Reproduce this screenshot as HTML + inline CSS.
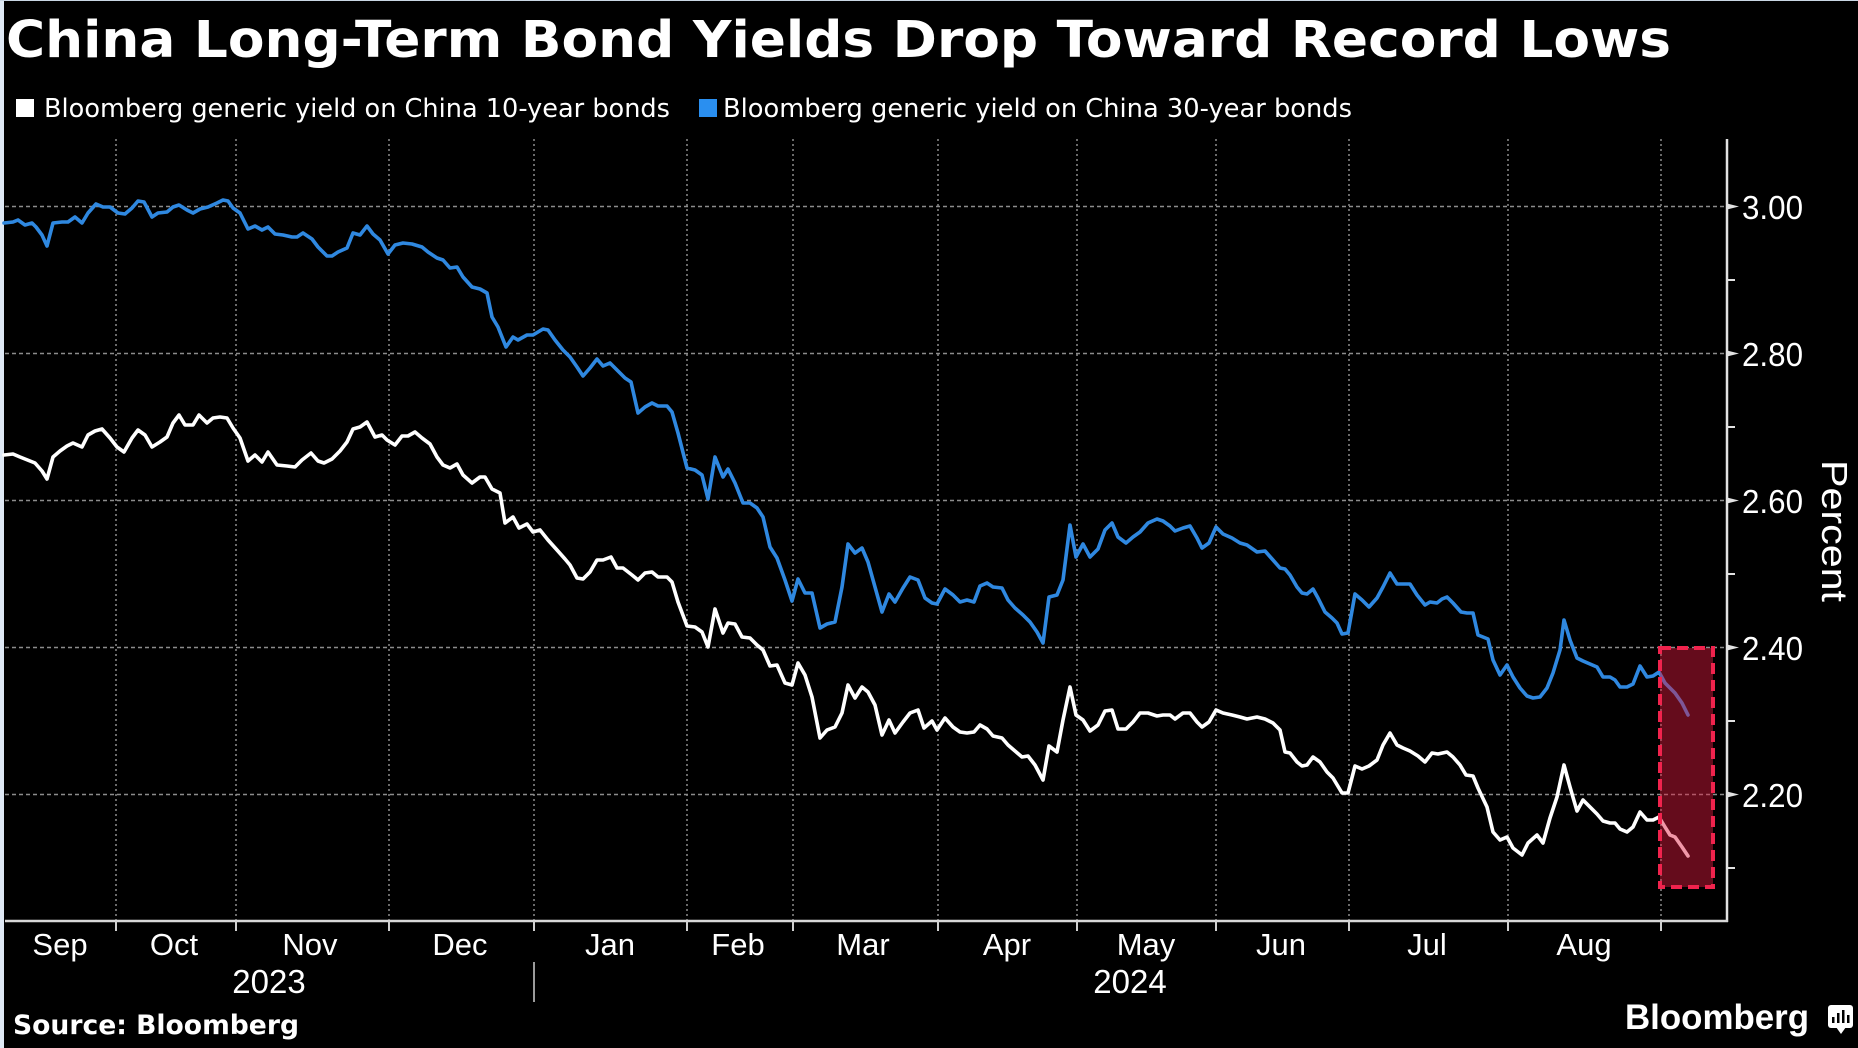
<!DOCTYPE html>
<html>
<head>
<meta charset="utf-8">
<style>
html,body{margin:0;padding:0;background:#000;}
body{width:1858px;height:1048px;overflow:hidden;}
svg{display:block;}
</style>
</head>
<body>
<svg width="1858" height="1048" viewBox="0 0 1858 1048" xmlns="http://www.w3.org/2000/svg">
<rect x="0" y="0" width="1858" height="1048" fill="#000"/>
<rect x="0" y="0" width="4" height="1048" fill="#dfe9f5"/>
<rect x="0" y="0" width="1858" height="1" fill="#c9d6e4"/>

<!-- Title -->
<text x="6" y="57" font-family="DejaVu Sans, Liberation Sans, sans-serif" font-weight="bold" font-size="51" fill="#fff" textLength="1665" lengthAdjust="spacingAndGlyphs">China Long-Term Bond Yields Drop Toward Record Lows</text>

<!-- Legend -->
<rect x="16" y="99" width="18" height="18" fill="#ffffff"/>
<text x="44" y="117" font-family="DejaVu Sans, Liberation Sans, sans-serif" font-size="26" fill="#fff" textLength="626" lengthAdjust="spacingAndGlyphs">Bloomberg generic yield on China 10-year bonds</text>
<rect x="699" y="99" width="18" height="18" fill="#2a8ff0"/>
<text x="723" y="117" font-family="DejaVu Sans, Liberation Sans, sans-serif" font-size="26" fill="#fff" textLength="629" lengthAdjust="spacingAndGlyphs">Bloomberg generic yield on China 30-year bonds</text>

<!-- Horizontal grid -->
<g stroke="#8c8c8c" stroke-width="1.5" stroke-dasharray="4 3">
<line x1="5" y1="206.5" x2="1726" y2="206.5"/>
<line x1="5" y1="353.5" x2="1726" y2="353.5"/>
<line x1="5" y1="500.5" x2="1726" y2="500.5"/>
<line x1="5" y1="647.5" x2="1726" y2="647.5"/>
<line x1="5" y1="794.5" x2="1726" y2="794.5"/>
</g>
<!-- Vertical grid -->
<g stroke="#8c8c8c" stroke-width="1.5" stroke-dasharray="2 3">
<line x1="116" y1="139" x2="116" y2="920"/>
<line x1="236" y1="139" x2="236" y2="920"/>
<line x1="389" y1="139" x2="389" y2="920"/>
<line x1="534" y1="139" x2="534" y2="920"/>
<line x1="687" y1="139" x2="687" y2="920"/>
<line x1="793" y1="139" x2="793" y2="920"/>
<line x1="938" y1="139" x2="938" y2="920"/>
<line x1="1077" y1="139" x2="1077" y2="920"/>
<line x1="1216" y1="139" x2="1216" y2="920"/>
<line x1="1349" y1="139" x2="1349" y2="920"/>
<line x1="1508" y1="139" x2="1508" y2="920"/>
<line x1="1661" y1="139" x2="1661" y2="920"/>
</g>

<!-- Series: 30-year (blue) -->
<polyline fill="none" stroke="#2f88e0" stroke-width="3.6" stroke-linejoin="round" stroke-linecap="round" points="4,223 13,222 18,220 25,225 32,223 36,227 42,235 47,246 53,223 62,222 68,222 75,217 82,223 88,213 96,204 103,207 110,207 118,213 125,214 132,208 138,201 144,202 152,217 158,213 167,212 173,207 179,205 187,210 193,213 200,209 208,207 217,203 223,200 228,201 233,208 240,213 248,229 255,226 262,230 268,227 275,234 283,235 292,237 297,237 303,233 312,239 318,247 327,256 332,256 338,252 347,248 353,233 360,235 367,226 373,234 380,240 388,254 395,245 403,243 412,244 422,247 428,252 437,258 443,260 450,268 457,267 463,277 472,287 480,289 487,293 492,317 498,327 506,347 513,337 518,340 527,335 533,335 543,329 548,330 555,340 563,350 570,357 577,367 583,376 590,368 597,359 603,366 610,363 617,370 625,378 631,382 638,413 645,407 652,403 658,406 667,406 672,412 678,433 687,468 695,470 702,475 708,499 715,457 723,477 728,469 735,483 743,503 750,503 757,508 763,517 770,547 777,558 785,580 792,601 798,579 805,593 812,593 820,628 827,624 835,622 842,587 848,544 855,553 862,548 868,562 875,587 882,612 889,594 895,602 903,588 910,577 918,580 925,598 932,603 937,604 945,589 953,595 960,602 967,600 974,602 980,586 987,583 993,587 1002,588 1008,600 1015,608 1023,615 1030,622 1037,632 1043,643 1049,597 1057,595 1063,580 1070,525 1076,557 1083,544 1090,557 1098,549 1105,530 1112,523 1118,537 1126,543 1133,537 1140,532 1148,523 1157,519 1163,521 1170,526 1175,531 1183,528 1190,526 1197,538 1202,548 1209,543 1216,527 1223,534 1232,538 1240,543 1247,545 1257,552 1265,551 1273,560 1280,568 1285,569 1290,575 1297,587 1302,593 1307,594 1313,589 1318,598 1325,612 1332,618 1337,623 1342,634 1348,633 1355,594 1362,600 1369,607 1377,598 1383,587 1390,573 1397,584 1403,584 1410,584 1417,595 1425,605 1430,602 1437,603 1442,599 1447,597 1453,603 1461,612 1467,613 1473,613 1478,635 1483,637 1488,639 1493,660 1500,675 1507,665 1513,677 1520,688 1527,696 1533,698 1540,697 1547,688 1553,673 1560,650 1564,620 1570,640 1577,658 1583,661 1590,664 1597,667 1603,677 1610,677 1615,680 1620,687 1627,687 1633,684 1640,666 1647,677 1653,676 1659,672 1665,683 1670,688 1675,693 1682,703 1688,715"/>

<!-- Series: 10-year (white) -->
<polyline fill="none" stroke="#ffffff" stroke-width="3.6" stroke-linejoin="round" stroke-linecap="round" points="4,455 13,454 20,457 30,461 35,463 42,471 47,479 53,457 60,451 67,446 73,443 82,447 88,435 95,431 102,429 110,438 117,447 124,452 132,438 138,430 145,435 152,447 160,442 167,437 173,423 179,415 185,425 193,425 199,415 207,423 213,418 220,417 227,418 233,428 240,438 248,461 255,455 262,462 268,452 277,465 287,466 295,467 302,460 311,453 318,461 324,463 332,459 340,451 347,442 353,429 360,427 367,422 375,437 382,435 387,440 395,445 402,436 408,436 415,432 422,438 430,444 437,457 443,465 450,468 457,464 463,475 472,483 480,477 485,477 492,489 500,493 505,523 513,517 519,528 527,524 533,532 540,530 548,540 557,550 565,559 570,565 577,578 583,579 590,572 597,560 603,560 611,557 617,568 623,568 632,575 638,580 645,573 652,572 658,577 667,577 672,582 678,602 687,626 695,627 702,632 708,647 715,609 723,633 728,623 735,624 742,637 750,638 757,645 763,650 770,666 777,665 785,683 792,685 798,663 805,675 812,697 820,738 827,730 835,727 842,713 848,685 855,698 862,687 868,692 875,705 882,735 889,720 895,733 903,722 910,713 918,710 924,728 932,721 937,730 945,718 953,727 960,732 967,733 974,732 980,725 987,729 993,736 1002,738 1008,745 1015,751 1022,757 1028,756 1035,765 1043,780 1049,746 1057,752 1063,720 1070,687 1076,715 1083,720 1090,731 1098,725 1105,711 1112,710 1118,729 1126,729 1133,722 1140,713 1148,713 1157,716 1163,715 1170,715 1175,719 1183,713 1190,713 1197,722 1202,727 1209,722 1216,710 1223,713 1232,715 1240,717 1247,719 1257,717 1265,719 1273,723 1280,730 1285,752 1290,753 1297,762 1302,766 1307,765 1313,757 1320,762 1327,772 1333,778 1342,793 1348,793 1355,766 1362,769 1369,766 1377,760 1383,745 1390,733 1397,745 1403,748 1410,751 1418,756 1425,762 1432,753 1438,754 1447,752 1453,757 1460,765 1466,775 1473,776 1478,788 1487,807 1493,832 1500,840 1507,837 1513,848 1522,855 1528,843 1537,835 1543,843 1550,818 1557,797 1564,765 1570,787 1577,811 1583,800 1590,807 1597,814 1603,821 1610,823 1615,823 1620,829 1627,832 1633,827 1640,812 1647,820 1653,820 1659,817 1665,827 1670,835 1675,837 1682,847 1688,856"/>

<!-- Highlight box -->
<rect x="1660" y="648" width="53" height="239" fill="#e01b3e" fill-opacity="0.45" stroke="#f0234d" stroke-width="4" stroke-dasharray="11 6"/>

<!-- Axes -->
<line x1="1727" y1="139" x2="1727" y2="922" stroke="#e2e2e2" stroke-width="2.5"/>
<line x1="5" y1="921" x2="1728" y2="921" stroke="#d8d8d8" stroke-width="2.5"/>
<!-- Y ticks -->
<g stroke="#e2e2e2" stroke-width="2">
<line x1="1727" y1="280" x2="1735" y2="280"/>
<line x1="1727" y1="427" x2="1735" y2="427"/>
<line x1="1727" y1="574" x2="1735" y2="574"/>
<line x1="1727" y1="721" x2="1735" y2="721"/>
<line x1="1727" y1="868" x2="1735" y2="868"/>
</g>
<g fill="#e2e2e2">
<polygon points="1727,203.5 1739,206.5 1727,209.5"/>
<polygon points="1727,350.5 1739,353.5 1727,356.5"/>
<polygon points="1727,497.5 1739,500.5 1727,503.5"/>
<polygon points="1727,644.5 1739,647.5 1727,650.5"/>
<polygon points="1727,791.5 1739,794.5 1727,797.5"/>
</g>
<!-- X ticks -->
<g stroke="#d0d0d0" stroke-width="2">
<line x1="116" y1="921" x2="116" y2="931"/>
<line x1="236" y1="921" x2="236" y2="931"/>
<line x1="389" y1="921" x2="389" y2="931"/>
<line x1="534" y1="921" x2="534" y2="931"/>
<line x1="687" y1="921" x2="687" y2="931"/>
<line x1="793" y1="921" x2="793" y2="931"/>
<line x1="938" y1="921" x2="938" y2="931"/>
<line x1="1077" y1="921" x2="1077" y2="931"/>
<line x1="1216" y1="921" x2="1216" y2="931"/>
<line x1="1349" y1="921" x2="1349" y2="931"/>
<line x1="1508" y1="921" x2="1508" y2="931"/>
<line x1="1661" y1="921" x2="1661" y2="931"/>
</g>

<!-- Y labels -->
<g font-family="Liberation Sans, sans-serif" font-size="33" fill="#fff">
<text x="1742" y="219" textLength="61" lengthAdjust="spacingAndGlyphs">3.00</text>
<text x="1742" y="366" textLength="61" lengthAdjust="spacingAndGlyphs">2.80</text>
<text x="1742" y="513" textLength="61" lengthAdjust="spacingAndGlyphs">2.60</text>
<text x="1742" y="660" textLength="61" lengthAdjust="spacingAndGlyphs">2.40</text>
<text x="1742" y="807" textLength="61" lengthAdjust="spacingAndGlyphs">2.20</text>
</g>
<text transform="translate(1822,460) rotate(90)" x="0" y="0" font-family="Liberation Sans, sans-serif" font-size="36" fill="#fff" textLength="142" lengthAdjust="spacingAndGlyphs">Percent</text>

<!-- X labels -->
<g font-family="Liberation Sans, sans-serif" font-size="31" fill="#fff" text-anchor="middle">
<text x="60" y="955">Sep</text>
<text x="174" y="955">Oct</text>
<text x="310" y="955">Nov</text>
<text x="460" y="955">Dec</text>
<text x="610" y="955">Jan</text>
<text x="738" y="955">Feb</text>
<text x="863" y="955">Mar</text>
<text x="1007" y="955">Apr</text>
<text x="1146" y="955">May</text>
<text x="1281" y="955">Jun</text>
<text x="1427" y="955">Jul</text>
<text x="1584" y="955">Aug</text>
</g>
<g font-family="Liberation Sans, sans-serif" font-size="33" fill="#fff" text-anchor="middle">
<text x="269" y="993">2023</text>
<text x="1130" y="993">2024</text>
</g>
<line x1="534" y1="962" x2="534" y2="1002" stroke="#cfcfcf" stroke-width="1.5"/>

<!-- Footer -->
<text x="13" y="1034" font-family="DejaVu Sans, Liberation Sans, sans-serif" font-weight="bold" font-size="27" fill="#fff" textLength="286" lengthAdjust="spacingAndGlyphs">Source: Bloomberg</text>
<text x="1625" y="1029" font-family="Liberation Sans, sans-serif" font-weight="bold" font-size="35" fill="#fff" textLength="184" lengthAdjust="spacingAndGlyphs">Bloomberg</text>
<rect x="1828" y="1005" width="25" height="23" rx="3" fill="#fff"/>
<polygon points="1836,1027 1846,1027 1841,1034" fill="#fff"/>
<g fill="#000">
<rect x="1832" y="1017" width="2.5" height="6"/>
<rect x="1837" y="1013" width="2.5" height="10"/>
<rect x="1842" y="1010" width="2.5" height="13"/>
<rect x="1847" y="1015" width="2.5" height="8"/>
</g>
</svg>
</body>
</html>
